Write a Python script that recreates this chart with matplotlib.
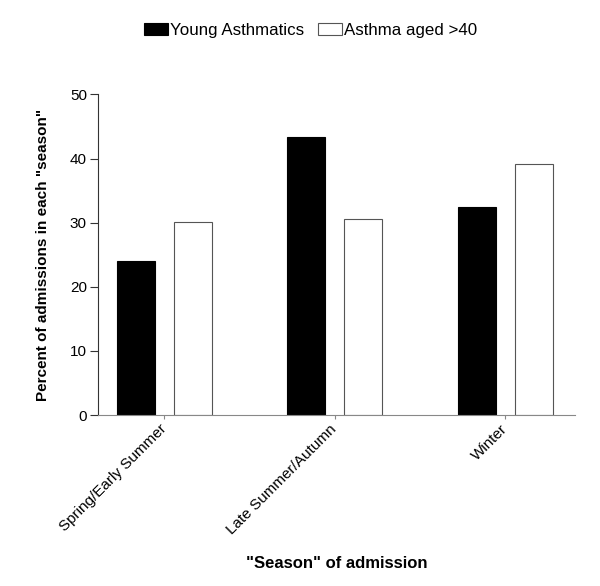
import matplotlib.pyplot as plt
import matplotlib.transforms as mtransforms
import numpy as np

plt.rcParams['font.family'] = ['Liberation Sans', 'DejaVu Sans']

seasons = ['Spring/Early Summer', 'Late Summer/Autumn', 'Winter']
young = [24.1, 43.3, 32.4]
older = [30.1, 30.5, 39.1]
series_names = ['Young Asthmatics', 'Asthma aged >40']

fig = plt.figure(figsize=(6, 5.86), dpi=100)
ax = fig.add_axes([0.1633, 0.2918, 0.795, 0.547])

x = np.arange(len(seasons))
w = 0.223
ax.bar(x - 0.1667, young, w, color='black', edgecolor='black', linewidth=0.8, label=series_names[0])
ax.bar(x + 0.1667, older, w, color='white', edgecolor='#555555', linewidth=0.8, label=series_names[1])

ax.set_xlim(-0.39, 2.41)
ax.set_ylim(0, 50)
ax.set_yticks([0, 10, 20, 30, 40, 50])
ax.set_xticks(x)
ax.set_xticklabels(seasons, rotation=45, ha='right', rotation_mode='anchor', fontsize=11)
ax.tick_params(axis='y', labelsize=11, length=6, width=0.8, color='#333333', pad=2)
ax.tick_params(axis='x', length=3, width=0.8, color='#888888', pad=4)

# nudge rotated labels so their ends sit right under the tick
shift = mtransforms.ScaledTranslation(-0.05, 0.03, fig.dpi_scale_trans)
for lbl in ax.get_xticklabels():
    lbl.set_transform(lbl.get_transform() + shift)

ax.spines['top'].set_visible(False)
ax.spines['right'].set_visible(False)
ax.spines['left'].set_color('#333333')
ax.spines['bottom'].set_color('#888888')

ax.set_ylabel('Percent of admissions in each "season"', fontsize=11, fontweight='bold', labelpad=14)
fig.text(0.561, 0.039, '"Season" of admission', ha='center', va='center', fontsize=12, fontweight='bold')

fig.legend(loc='center', bbox_to_anchor=(0.518, 0.948), ncol=2, frameon=False,
           fontsize=12.2, handlelength=1.4, handleheight=0.77, handletextpad=0.15, columnspacing=0.8)

plt.savefig('out.png', dpi=100)
